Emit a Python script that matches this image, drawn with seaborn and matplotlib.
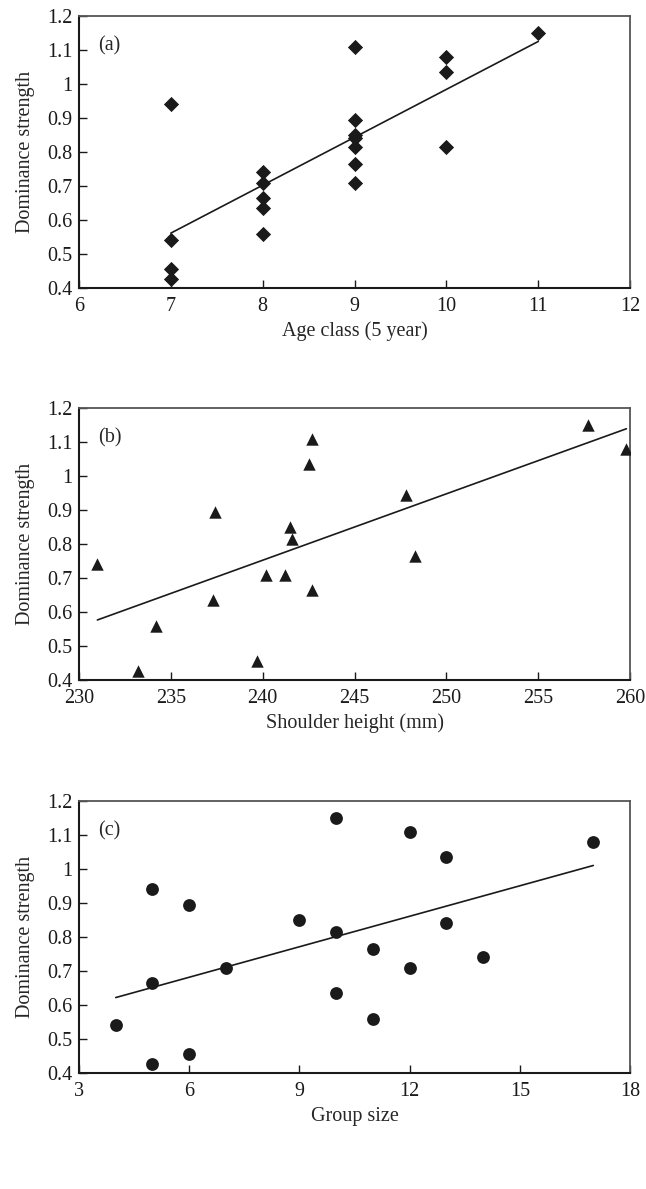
import matplotlib
matplotlib.use("Agg")
import matplotlib.pyplot as plt
import seaborn as sns
import pandas as pd

# (a) dominance vs age class
age_class = [7, 7, 7, 7, 8, 8, 8, 8, 8, 9, 9, 9, 9, 9, 9, 9, 10, 10, 10, 11]
dom_age = [0.94, 0.54, 0.455, 0.425, 0.74, 0.71, 0.665, 0.635, 0.56,
           1.11, 0.895, 0.85, 0.84, 0.815, 0.765, 0.71, 1.08, 1.035, 0.815, 1.15]

# (b) dominance vs shoulder height
shoulder = [231.0, 233.2, 234.2, 237.3, 237.4, 239.7, 240.2, 241.2, 241.5, 241.6,
            242.5, 242.7, 242.7, 247.8, 248.3, 257.7, 259.8]
dom_shoulder = [0.74, 0.425, 0.56, 0.635, 0.895, 0.455, 0.71, 0.71, 0.85, 0.815,
                1.035, 1.11, 0.665, 0.945, 0.765, 1.15, 1.08]

# (c) dominance vs group size
group_size = [4, 5, 5, 5, 6, 6, 7, 9, 10, 10, 10, 11, 11, 12, 12, 13, 13, 14, 17]
dom_group = [0.54, 0.94, 0.665, 0.425, 0.895, 0.455, 0.71, 0.85, 1.15, 0.815,
             0.635, 0.765, 0.56, 1.11, 0.71, 1.035, 0.84, 0.74, 1.08]

y_ticks = [0.4, 0.5, 0.6, 0.7, 0.8, 0.9, 1.0, 1.1, 1.2]
y_ticklabels = ["0.4", "0.5", "0.6", "0.7", "0.8", "0.9", "1", "1.1", "1.2"]

sns.set_style("ticks")
plt.rcParams["font.family"] = ["Liberation Serif", "DejaVu Serif"]
plt.rcParams["font.size"] = 14.5

fig = plt.figure(figsize=(6.46, 11.89), dpi=100)

panels = [
    (age_class, dom_age, "D", 60, [6, 7, 8, 9, 10, 11, 12], (6, 12),
     "Age class (5 year)", "(a)", 0.7578),
    (shoulder, dom_shoulder, "^", 80, [230, 235, 240, 245, 250, 255, 260], (230, 260),
     "Shoulder height (mm)", "(b)", 0.4281),
    (group_size, dom_group, "o", 85, [3, 6, 9, 12, 15, 18], (3, 18),
     "Group size", "(c)", 0.0976),
]

ink = "#1a1a1a"

for x, y, marker, size, xt, xlim, xlabel, tag, bottom in panels:
    ax = fig.add_axes([0.1223, bottom, 0.853, 0.2288])
    df = pd.DataFrame({"x": x, "y": y})
    sns.regplot(data=df, x="x", y="y", ax=ax, ci=None, truncate=True,
                marker=marker, color=ink,
                scatter_kws={"s": size, "linewidths": 0, "alpha": 1, "zorder": 3},
                line_kws={"color": ink, "linewidth": 1.2})
    ax.set_xlim(*xlim)
    ax.set_ylim(0.4, 1.2)
    ax.set_xticks(xt)
    ax.set_xticklabels([str(v) for v in xt])
    ax.set_yticks(y_ticks)
    ax.set_yticklabels(y_ticklabels)
    ax.tick_params(direction="in", length=6, width=1.0, colors=ink, labelsize=14.5)
    ax.tick_params(axis="x", pad=6.5)
    ax.tick_params(axis="y", pad=4.5)
    ax.set_xlabel(xlabel, fontsize=14.5, labelpad=4)
    ax.set_ylabel("Dominance strength", fontsize=14.5, labelpad=9)
    ax.text(0.035, 0.89, tag, transform=ax.transAxes, fontsize=14.5, va="center")
    for side in ["left", "bottom"]:
        ax.spines[side].set_color(ink)
        ax.spines[side].set_linewidth(1.5)
    for side in ["top", "right"]:
        ax.spines[side].set_visible(True)
        ax.spines[side].set_color("#555555")
        ax.spines[side].set_linewidth(1.3)

fig.savefig("out.png", dpi=100)
